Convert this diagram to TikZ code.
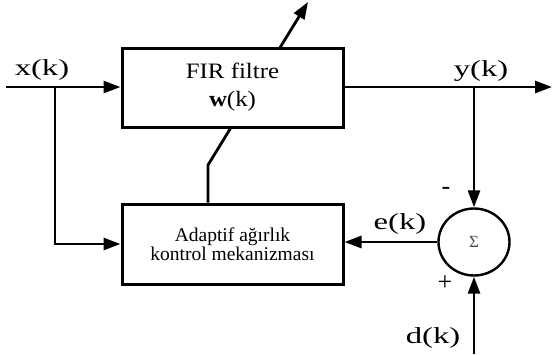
\documentclass[tikz,border=0pt]{standalone}
\usepackage{fontspec}
\setmainfont{Liberation Serif}
\newfontfamily\lblfont[FakeStretch=1.42]{Liberation Serif}
\newfontfamily\firfont[FakeStretch=1.13]{Liberation Serif}
\usetikzlibrary{arrows.meta,shapes.geometric}
\pgfdeclarelayer{bg}
\pgfsetlayers{bg,main}
\begin{document}
\begin{tikzpicture}[x=1pt,y=-1pt,
  arr/.style={line width=2.8pt, -{Triangle[length=17pt,width=12pt]}},
  blk/.style={draw, line width=3pt, fill=white, minimum width=221pt, inner sep=0pt, align=center},
  lbl/.style={font=\lblfont\fontsize{23}{23}\selectfont, anchor=base, inner sep=0pt},
  sgn/.style={font=\fontsize{26}{26}\selectfont, inner sep=0pt},
  ]
\useasboundingbox (0,0) rectangle (552,354);
\node[blk, minimum height=79pt, font=\firfont\fontsize{22}{28}\selectfont] (fir) at (232.5,87.5) {FIR filtre\\\textbf{w}(k)};
\node[blk, minimum height=80pt, font=\fontsize{19.5}{18.5}\selectfont] (ada) at (232.5,244) {Adaptif ağırlık\\kontrol mekanizması};
\node[draw, ellipse, line width=2.4pt, minimum width=71pt, minimum height=67pt, inner sep=0pt, font=\fontsize{17}{17}\selectfont, text=black!70] (sum) at (474,242) {\raisebox{-3pt}{Σ}};
\coordinate (xin) at (6,87);
\coordinate (xb) at (55,87);
\coordinate (yb) at (474,87);
\coordinate (yout) at (552,87);
\coordinate (din) at (474,354);
\coordinate (bend) at (208,165);
\coordinate (wtip) at (308,2);
\draw[arr] (xin) -- (fir.west |- xin);
\draw[arr] (xb) |- (ada.west);
\draw[arr] (fir.east |- yout) -- (yout);
\draw[arr] (yb) -- (sum.north);
\draw[arr] (din) -- (sum.south);
\draw[arr] (sum.west) -- (ada.east |- sum.west);
\begin{pgfonlayer}{bg}
\draw[arr] (ada.north -| bend) -- (bend) -- (wtip);
\end{pgfonlayer}
\node[lbl] (xl) at (42,75) {x(k)};
\node[lbl] (yl) at (481,76) {y(k)};
\node[lbl] (el) at (400,229) {e(k)};
\node[lbl] (dl) at (433,343) {d(k)};
\node[sgn] (minus) at (446,191) {-};
\node[sgn] (plus) at (445,283) {+};
\end{tikzpicture}
\end{document}
